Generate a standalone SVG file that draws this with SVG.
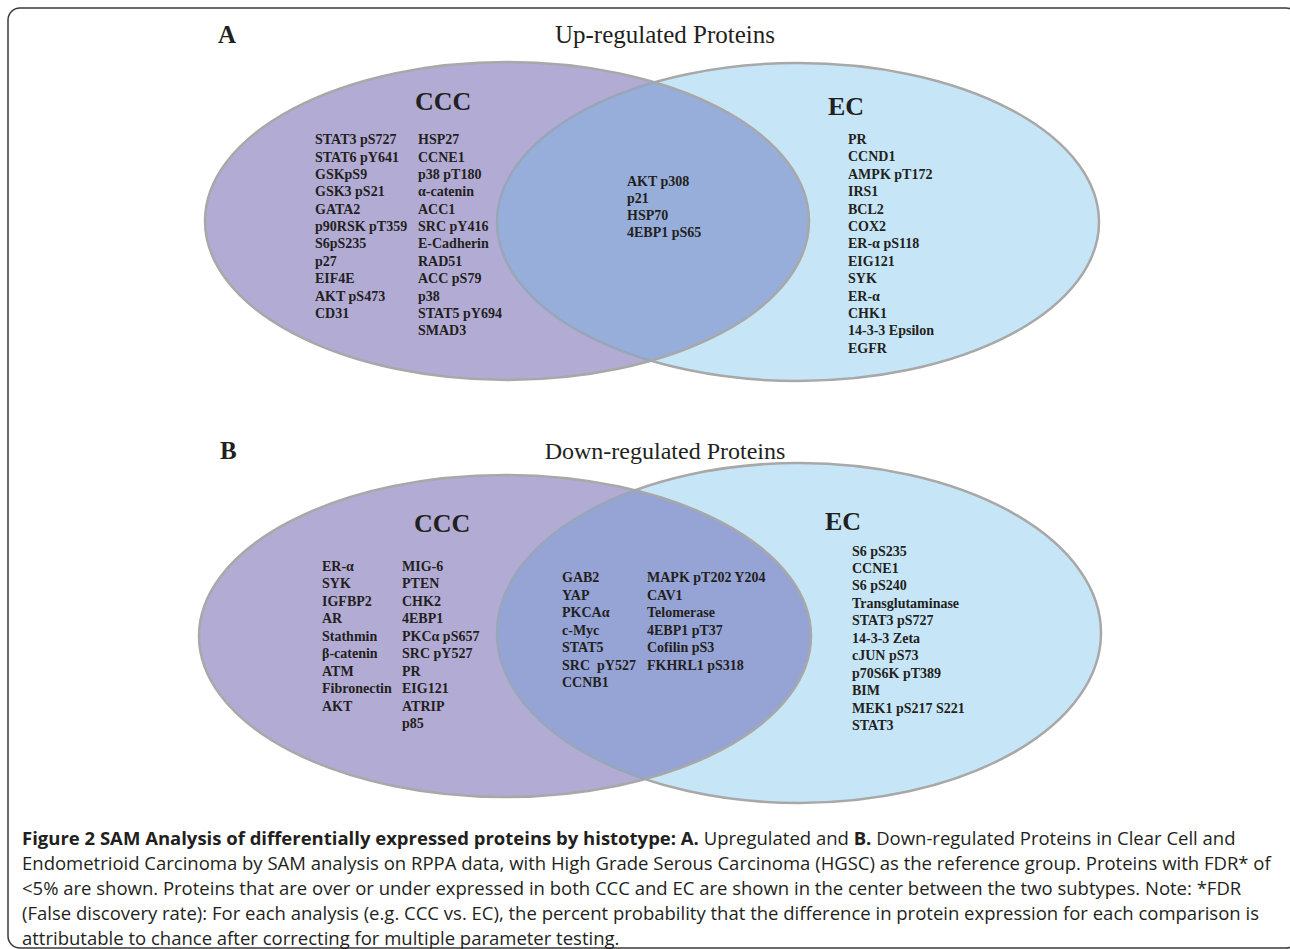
<svg xmlns="http://www.w3.org/2000/svg" width="1290" height="949" viewBox="0 0 1290 949">
<style>
.lbl{font-family:"Liberation Serif","Times New Roman",serif;font-weight:bold;font-size:14px;fill:#231f20}
.hd{font-family:"Liberation Serif","Times New Roman",serif;font-weight:bold;font-size:26px;fill:#231f20}
.ttl{font-family:"Liberation Serif","Times New Roman",serif;font-size:25px;fill:#231f20}
.cap{font-family:"Open Sans","Liberation Sans",sans-serif;font-size:18.5px;fill:#231f20}
.b{font-weight:bold}
.ccc{fill:#b2abd4}
.ec{fill:#c6e6f8}
.ov{fill:#97aedb}
.ov2{fill:#95a3d5}
.edge{fill:none;stroke:#a8a8a8;stroke-width:2.5}
.edge2{fill:none;stroke:#8fa6c4;stroke-width:2;opacity:0.8}
</style>
<defs>
<clipPath id="clipA"><ellipse cx="507" cy="221" rx="302" ry="159"/></clipPath>
<clipPath id="clipB"><ellipse cx="505" cy="636" rx="306" ry="161"/></clipPath>
</defs>
<rect x="8" y="8" width="1290" height="940" rx="12" fill="#ffffff" stroke="#3a3a3a" stroke-width="1.5"/>

<g id="panelA">
<text class="hd" x="218" y="43" style="font-size:25px">A</text>
<text class="ttl" x="665" y="43" text-anchor="middle">Up-regulated Proteins</text>
<g id="A-CCC">
<ellipse class="ccc" cx="507" cy="221" rx="302" ry="159"/>
</g>
<g id="A-EC">
<ellipse class="ec" cx="798" cy="222" rx="301" ry="159"/>
</g>
<g id="A-overlap">
<ellipse class="ov" cx="798" cy="222" rx="301" ry="159" clip-path="url(#clipA)"/>
</g>
<ellipse class="edge" cx="507" cy="221" rx="302" ry="159"/>
<ellipse class="edge" cx="798" cy="222" rx="301" ry="159"/>
<g clip-path="url(#clipA)"><ellipse class="edge2" cx="798" cy="222" rx="301" ry="159"/></g>

<text class="hd" x="415" y="110">CCC</text>
<text class="hd" x="828" y="115">EC</text>
<g class="lbl">
<text x="315" y="144.3">STAT3 pS727</text>
<text x="315" y="161.7">STAT6 pY641</text>
<text x="315" y="179">GSKpS9</text>
<text x="315" y="196.4">GSK3 pS21</text>
<text x="315" y="213.7">GATA2</text>
<text x="315" y="231.1">p90RSK pT359</text>
<text x="315" y="248.4">S6pS235</text>
<text x="315" y="265.8">p27</text>
<text x="315" y="283.1">EIF4E</text>
<text x="315" y="300.5">AKT pS473</text>
<text x="315" y="317.8">CD31</text>
<text x="418" y="144.3">HSP27</text>
<text x="418" y="161.7">CCNE1</text>
<text x="418" y="179">p38 pT180</text>
<text x="418" y="196.4">α-catenin</text>
<text x="418" y="213.7">ACC1</text>
<text x="418" y="231.1">SRC pY416</text>
<text x="418" y="248.4">E-Cadherin</text>
<text x="418" y="265.8">RAD51</text>
<text x="418" y="283.1">ACC pS79</text>
<text x="418" y="300.5">p38</text>
<text x="418" y="317.8">STAT5 pY694</text>
<text x="418" y="335.2">SMAD3</text>

<text x="627" y="186">AKT p308</text>
<text x="627" y="203">p21</text>
<text x="627" y="220">HSP70</text>
<text x="627" y="237">4EBP1 pS65</text>

<text x="848" y="144">PR</text>
<text x="848" y="161.4">CCND1</text>
<text x="848" y="178.8">AMPK pT172</text>
<text x="848" y="196.2">IRS1</text>
<text x="848" y="213.6">BCL2</text>
<text x="848" y="231">COX2</text>
<text x="848" y="248.4">ER-α pS118</text>
<text x="848" y="265.8">EIG121</text>
<text x="848" y="283.2">SYK</text>
<text x="848" y="300.6">ER-α</text>
<text x="848" y="318">CHK1</text>
<text x="848" y="335.4">14-3-3 Epsilon</text>
<text x="848" y="352.8">EGFR</text>
</g>
</g>

<g id="panelB">
<text class="hd" x="220" y="459" style="font-size:25px">B</text>
<text class="ttl" x="665" y="459" text-anchor="middle" style="font-size:24px">Down-regulated Proteins</text>
<g id="B-CCC">
<ellipse class="ccc" cx="505" cy="636" rx="306" ry="161"/>
</g>
<g id="B-EC">
<ellipse class="ec" cx="799" cy="633" rx="302" ry="170"/>
</g>
<g id="B-overlap">
<ellipse class="ov2" cx="799" cy="633" rx="302" ry="170" clip-path="url(#clipB)"/>
</g>
<ellipse class="edge" cx="505" cy="636" rx="306" ry="161"/>
<ellipse class="edge" cx="799" cy="633" rx="302" ry="170"/>
<g clip-path="url(#clipB)"><ellipse class="edge2" cx="799" cy="633" rx="302" ry="170"/></g>

<text class="hd" x="414" y="531.7">CCC</text>
<text class="hd" x="825" y="530">EC</text>
<g class="lbl">
<text x="322" y="570.7">ER-α</text>
<text x="322" y="588.2">SYK</text>
<text x="322" y="605.7">IGFBP2</text>
<text x="322" y="623.2">AR</text>
<text x="322" y="640.7">Stathmin</text>
<text x="322" y="658.2">β-catenin</text>
<text x="322" y="675.7">ATM</text>
<text x="322" y="693.2">Fibronectin</text>
<text x="322" y="710.7">AKT</text>
<text x="402" y="570.7">MIG-6</text>
<text x="402" y="588.2">PTEN</text>
<text x="402" y="605.7">CHK2</text>
<text x="402" y="623.2">4EBP1</text>
<text x="402" y="640.7">PKCα pS657</text>
<text x="402" y="658.2">SRC pY527</text>
<text x="402" y="675.7">PR</text>
<text x="402" y="693.2">EIG121</text>
<text x="402" y="710.7">ATRIP</text>
<text x="402" y="728.2">p85</text>

<text x="562" y="582.3">GAB2</text>
<text x="562" y="599.8">YAP</text>
<text x="562" y="617.3">PKCAα</text>
<text x="562" y="634.8">c-Myc</text>
<text x="562" y="652.3">STAT5</text>
<text x="562" y="669.8" xml:space="preserve">SRC  pY527</text>
<text x="562" y="687.3">CCNB1</text>
<text x="647" y="582.3">MAPK pT202 Y204</text>
<text x="647" y="599.8">CAV1</text>
<text x="647" y="617.3">Telomerase</text>
<text x="647" y="634.8">4EBP1 pT37</text>
<text x="647" y="652.3">Cofilin pS3</text>
<text x="647" y="669.8">FKHRL1 pS318</text>

<text x="852" y="555.5">S6 pS235</text>
<text x="852" y="573">CCNE1</text>
<text x="852" y="590.4">S6 pS240</text>
<text x="852" y="607.9">Transglutaminase</text>
<text x="852" y="625.3">STAT3 pS727</text>
<text x="852" y="642.8">14-3-3 Zeta</text>
<text x="852" y="660.2">cJUN pS73</text>
<text x="852" y="677.7">p70S6K pT389</text>
<text x="852" y="695.1">BIM</text>
<text x="852" y="712.6">MEK1 pS217 S221</text>
<text x="852" y="730">STAT3</text>
</g>
</g>

<g id="caption" class="cap">
<text x="22" y="845"><tspan class="b">Figure 2 SAM Analysis of differentially expressed proteins by histotype: A.</tspan> Upregulated and <tspan class="b">B.</tspan> Down-regulated Proteins in Clear Cell and</text>
<text x="22" y="870">Endometrioid Carcinoma by SAM analysis on RPPA data, with High Grade Serous Carcinoma (HGSC) as the reference group. Proteins with FDR* of</text>
<text x="22" y="895">&lt;5% are shown. Proteins that are over or under expressed in both CCC and EC are shown in the center between the two subtypes. Note: *FDR</text>
<text x="22" y="920">(False discovery rate): For each analysis (e.g. CCC vs. EC), the percent probability that the difference in protein expression for each comparison is</text>
<text x="22" y="945">attributable to chance after correcting for multiple parameter testing.</text>
</g>
</svg>
